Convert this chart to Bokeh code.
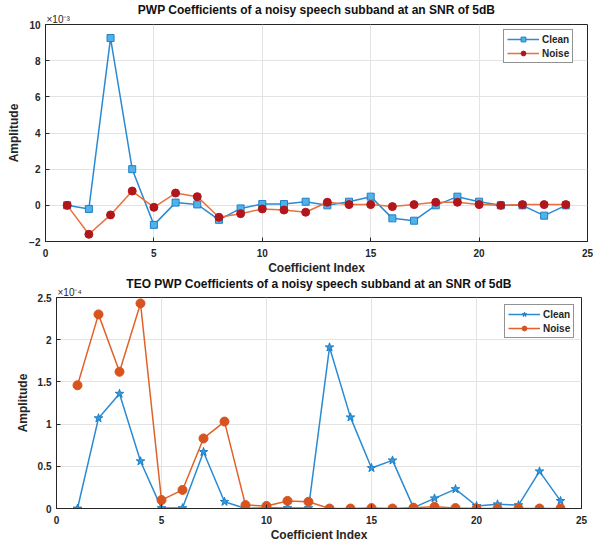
from bokeh.plotting import figure
from bokeh.models import Range1d, Title, FixedTicker
from bokeh.layouts import column
from bokeh.embed import file_html
from bokeh.resources import INLINE

# ---------------- data ----------------
coef_index = list(range(1, 25))

# PWP coefficients (units of 1e-3)
clean_pwp = [0.0, -0.2, 9.25, 2.0, -1.08, 0.15, 0.05, -0.8, -0.17, 0.07, 0.07, 0.2,
             0.0, 0.2, 0.48, -0.72, -0.85, 0.0, 0.48, 0.2, 0.0, 0.0, -0.57, 0.0]
noise_pwp = [0.0, -1.6, -0.53, 0.79, -0.11, 0.68, 0.48, -0.66, -0.46, -0.2, -0.26, -0.38,
             0.17, 0.04, 0.04, -0.07, 0.04, 0.17, 0.17, 0.04, 0.0, 0.04, 0.04, 0.04]

# TEO PWP coefficients (units of 1e-4)
clean_teo = [0.0, 1.07, 1.36, 0.56, 0.005, 0.005, 0.67, 0.08, 0.0, 0.01, 0.005, 0.005,
             1.91, 1.08, 0.48, 0.57, 0.01, 0.12, 0.23, 0.03, 0.05, 0.04, 0.44, 0.09]
noise_teo = [1.46, 2.3, 1.62, 2.43, 0.10, 0.22, 0.83, 1.03, 0.04, 0.03, 0.09, 0.08,
             0.0, 0.0, 0.005, 0.0, 0.01, 0.02, 0.005, 0.0, 0.0, 0.0, 0.0, 0.0]

x_ticks = [0, 5, 10, 15, 20, 25]
top_y_ticks = [-2, 0, 2, 4, 6, 8, 10]
bot_y_ticks = [0, 0.5, 1, 1.5, 2, 2.5]
bot_y_labels = {0: "0", 0.5: "0.5", 1: "1", 1.5: "1.5", 2: "2", 2.5: "2.5"}

title_top = "PWP Coefficients of a noisy speech subband at an SNR of 5dB"
title_bot = "TEO PWP Coefficients of a noisy speech subband at an SNR of 5dB"
exp_top = "\u00d710\u207b\u00b3"
exp_bot = "\u00d710\u207b\u2074"

FONT = "Liberation Sans"
AX = "#262626"
GRID = "#e3e3e3"


def style(p, yticks):
    p.background_fill_color = "white"
    p.border_fill_color = "white"
    p.outline_line_color = AX
    p.outline_line_width = 1
    p.xaxis.ticker = FixedTicker(ticks=x_ticks)
    p.yaxis.ticker = FixedTicker(ticks=yticks)
    p.xgrid.ticker = FixedTicker(ticks=x_ticks)
    p.ygrid.ticker = FixedTicker(ticks=yticks)
    p.grid.grid_line_color = GRID
    p.grid.grid_line_width = 1
    for ax in p.axis:
        ax.axis_line_color = AX
        ax.major_tick_line_color = AX
        ax.major_tick_in = 4
        ax.major_tick_out = 0
        ax.minor_tick_line_color = None
        ax.major_label_text_font = FONT
        ax.major_label_text_font_style = "bold"
        ax.major_label_text_font_size = "10px"
        ax.major_label_text_color = AX
        ax.axis_label_text_font = FONT
        ax.axis_label_text_font_style = "bold"
        ax.axis_label_text_font_size = "12px"
        ax.axis_label_text_color = AX
    p.xaxis.major_label_standoff = 7
    p.xaxis.axis_label_standoff = 1
    p.yaxis.major_label_standoff = 5
    p.yaxis.axis_label_standoff = 5
    p.xaxis.axis_label = "Coefficient Index"
    p.yaxis.axis_label = "Amplitude"


def make_title(text, standoff, **kw):
    try:
        return Title(text=text, standoff=standoff, **kw)
    except Exception:
        return Title(text=text, standoff=0, **kw)


def add_titles(p, exp_text, main_text, main_standoff):
    p.add_layout(make_title(exp_text, 0, align="left", offset=1,
                            text_font=FONT, text_font_style="normal", text_font_size="10px",
                            text_color=AX), "above")
    p.add_layout(make_title(main_text, main_standoff, align="center",
                            text_font=FONT, text_font_style="bold", text_font_size="12px",
                            text_color="#111111"), "above")


def legend_style(p, loc):
    lg = p.legend[0]
    lg.location = loc
    lg.margin = 0
    lg.padding = 3
    lg.spacing = 2
    lg.border_line_color = AX
    lg.border_line_width = 1
    lg.background_fill_color = "white"
    lg.background_fill_alpha = 1
    lg.label_text_font = FONT
    lg.label_text_font_style = "bold"
    lg.label_text_font_size = "10px"
    lg.label_text_color = AX
    lg.label_height = 12
    lg.glyph_height = 12
    lg.glyph_width = 32
    lg.label_standoff = 3


# ---------------- top figure ----------------
p1 = figure(width=593, height=277, output_backend="svg", toolbar_location=None,
            x_range=Range1d(0, 25), y_range=Range1d(-2, 10), title=None,
            min_border_left=45, min_border_right=6, min_border_top=24, min_border_bottom=34)
p1.frame_align = False
style(p1, top_y_ticks)
add_titles(p1, exp_top, title_top, -10)

p1.line(coef_index, clean_pwp, line_color="#2a8ad2", line_width=1.5, legend_label="Clean")
p1.scatter(coef_index, clean_pwp, marker="square", size=7, fill_color="#4fb2ea",
           line_color="#1f7fc4", line_width=1, legend_label="Clean")
p1.line(coef_index, noise_pwp, line_color="#e8713f", line_width=1.5, legend_label="Noise")
p1.scatter(coef_index, noise_pwp, marker="circle", size=8, fill_color="#b0161c",
           line_color="#b0161c", legend_label="Noise")
legend_style(p1, (458, 178))

# ---------------- bottom figure ----------------
p2 = figure(width=593, height=270, output_backend="svg", toolbar_location=None,
            x_range=Range1d(0, 25), y_range=Range1d(0, 2.5), title=None,
            min_border_left=56, min_border_right=12, min_border_top=20, min_border_bottom=39)
p2.frame_align = False
style(p2, bot_y_ticks)
p2.yaxis[0].major_label_overrides = bot_y_labels
add_titles(p2, exp_bot, title_bot, -12)

p2.line(coef_index, clean_teo, line_color="#2a8ad2", line_width=1.5, legend_label="Clean")
p2.scatter(coef_index, clean_teo, marker="star", size=9, fill_color="#2f9be0",
           line_color="#1f7fc4", line_width=1, legend_label="Clean")
p2.line(coef_index, noise_teo, line_color="#e0622a", line_width=1.5, legend_label="Noise")
p2.scatter(coef_index, noise_teo, marker="circle", size=9, fill_color="#d9531e",
           line_color="#d9531e", legend_label="Noise")
legend_style(p2, (448, 170))

layout = column(p1, p2, spacing=0)
open("out.html", "w").write(file_html(layout, INLINE))
